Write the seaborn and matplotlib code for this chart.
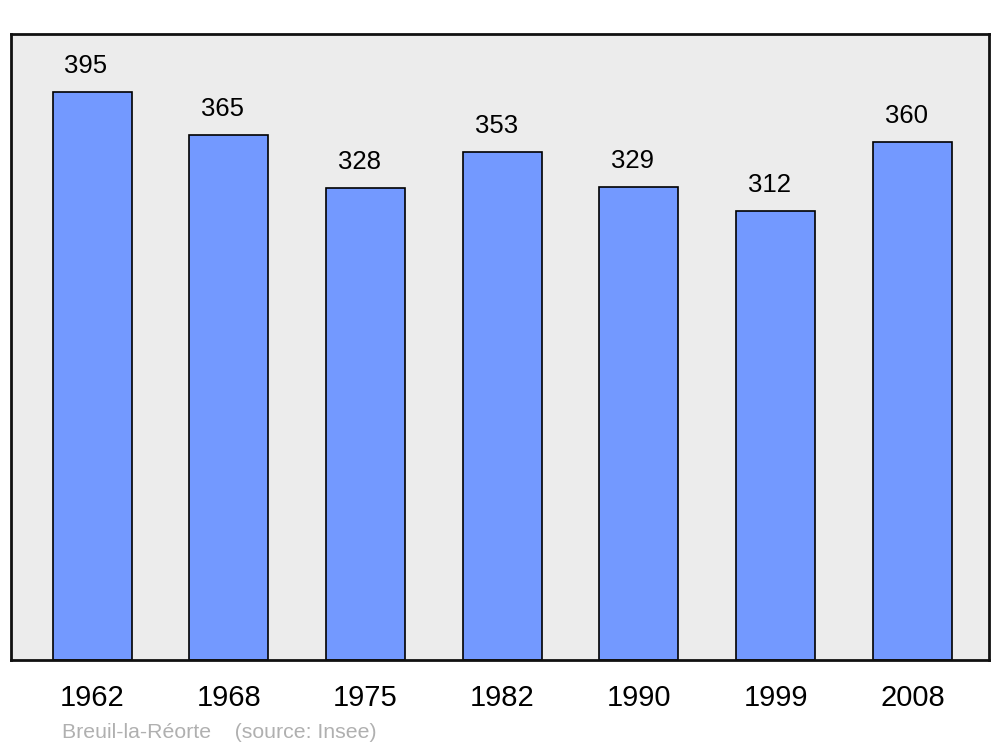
import matplotlib
matplotlib.use("Agg")
import matplotlib.pyplot as plt
import seaborn as sns
import pandas as pd

# Data
years = ["1962", "1968", "1975", "1982", "1990", "1999", "2008"]
population = [395, 365, 328, 353, 329, 312, 360]
commune = "Breuil-la-Réorte"
source = "(source: Insee)"

df = pd.DataFrame({"year": years, "pop": population})

sns.set_style("white")
plt.rcParams["font.family"] = ["Liberation Sans", "DejaVu Sans"]
plt.rcParams["text.color"] = "black"
plt.rcParams["xtick.color"] = "black"

fig = plt.figure(figsize=(10, 7.47), dpi=100)
ax = fig.add_axes([0.011, 0.1165, 0.978, 0.838])
ax.set_facecolor("#ececec")

sns.barplot(data=df, x="year", y="pop", color="#7399ff", width=0.578,
            edgecolor="black", linewidth=1.2, saturation=1, ax=ax)

for i, v in enumerate(population):
    ax.text(i - 0.044, v + 18, str(v), ha="center", va="center",
            fontsize=18.5, color="black")

ax.set_xlim(-0.593, 6.56)
ax.set_ylim(0, 435.3)
ax.set_yticks([])
ax.set_xlabel("")
ax.set_ylabel("")
ax.tick_params(axis="x", length=0, labelsize=21, pad=17, labelcolor="black")
for s in ax.spines.values():
    s.set_linewidth(2)
    s.set_color("#111111")

fig.text(0.062, 0.019, commune + "    " + source, color="#b0b0b0",
         fontsize=15.3, ha="left", va="center")

fig.savefig("out.png", dpi=100)
